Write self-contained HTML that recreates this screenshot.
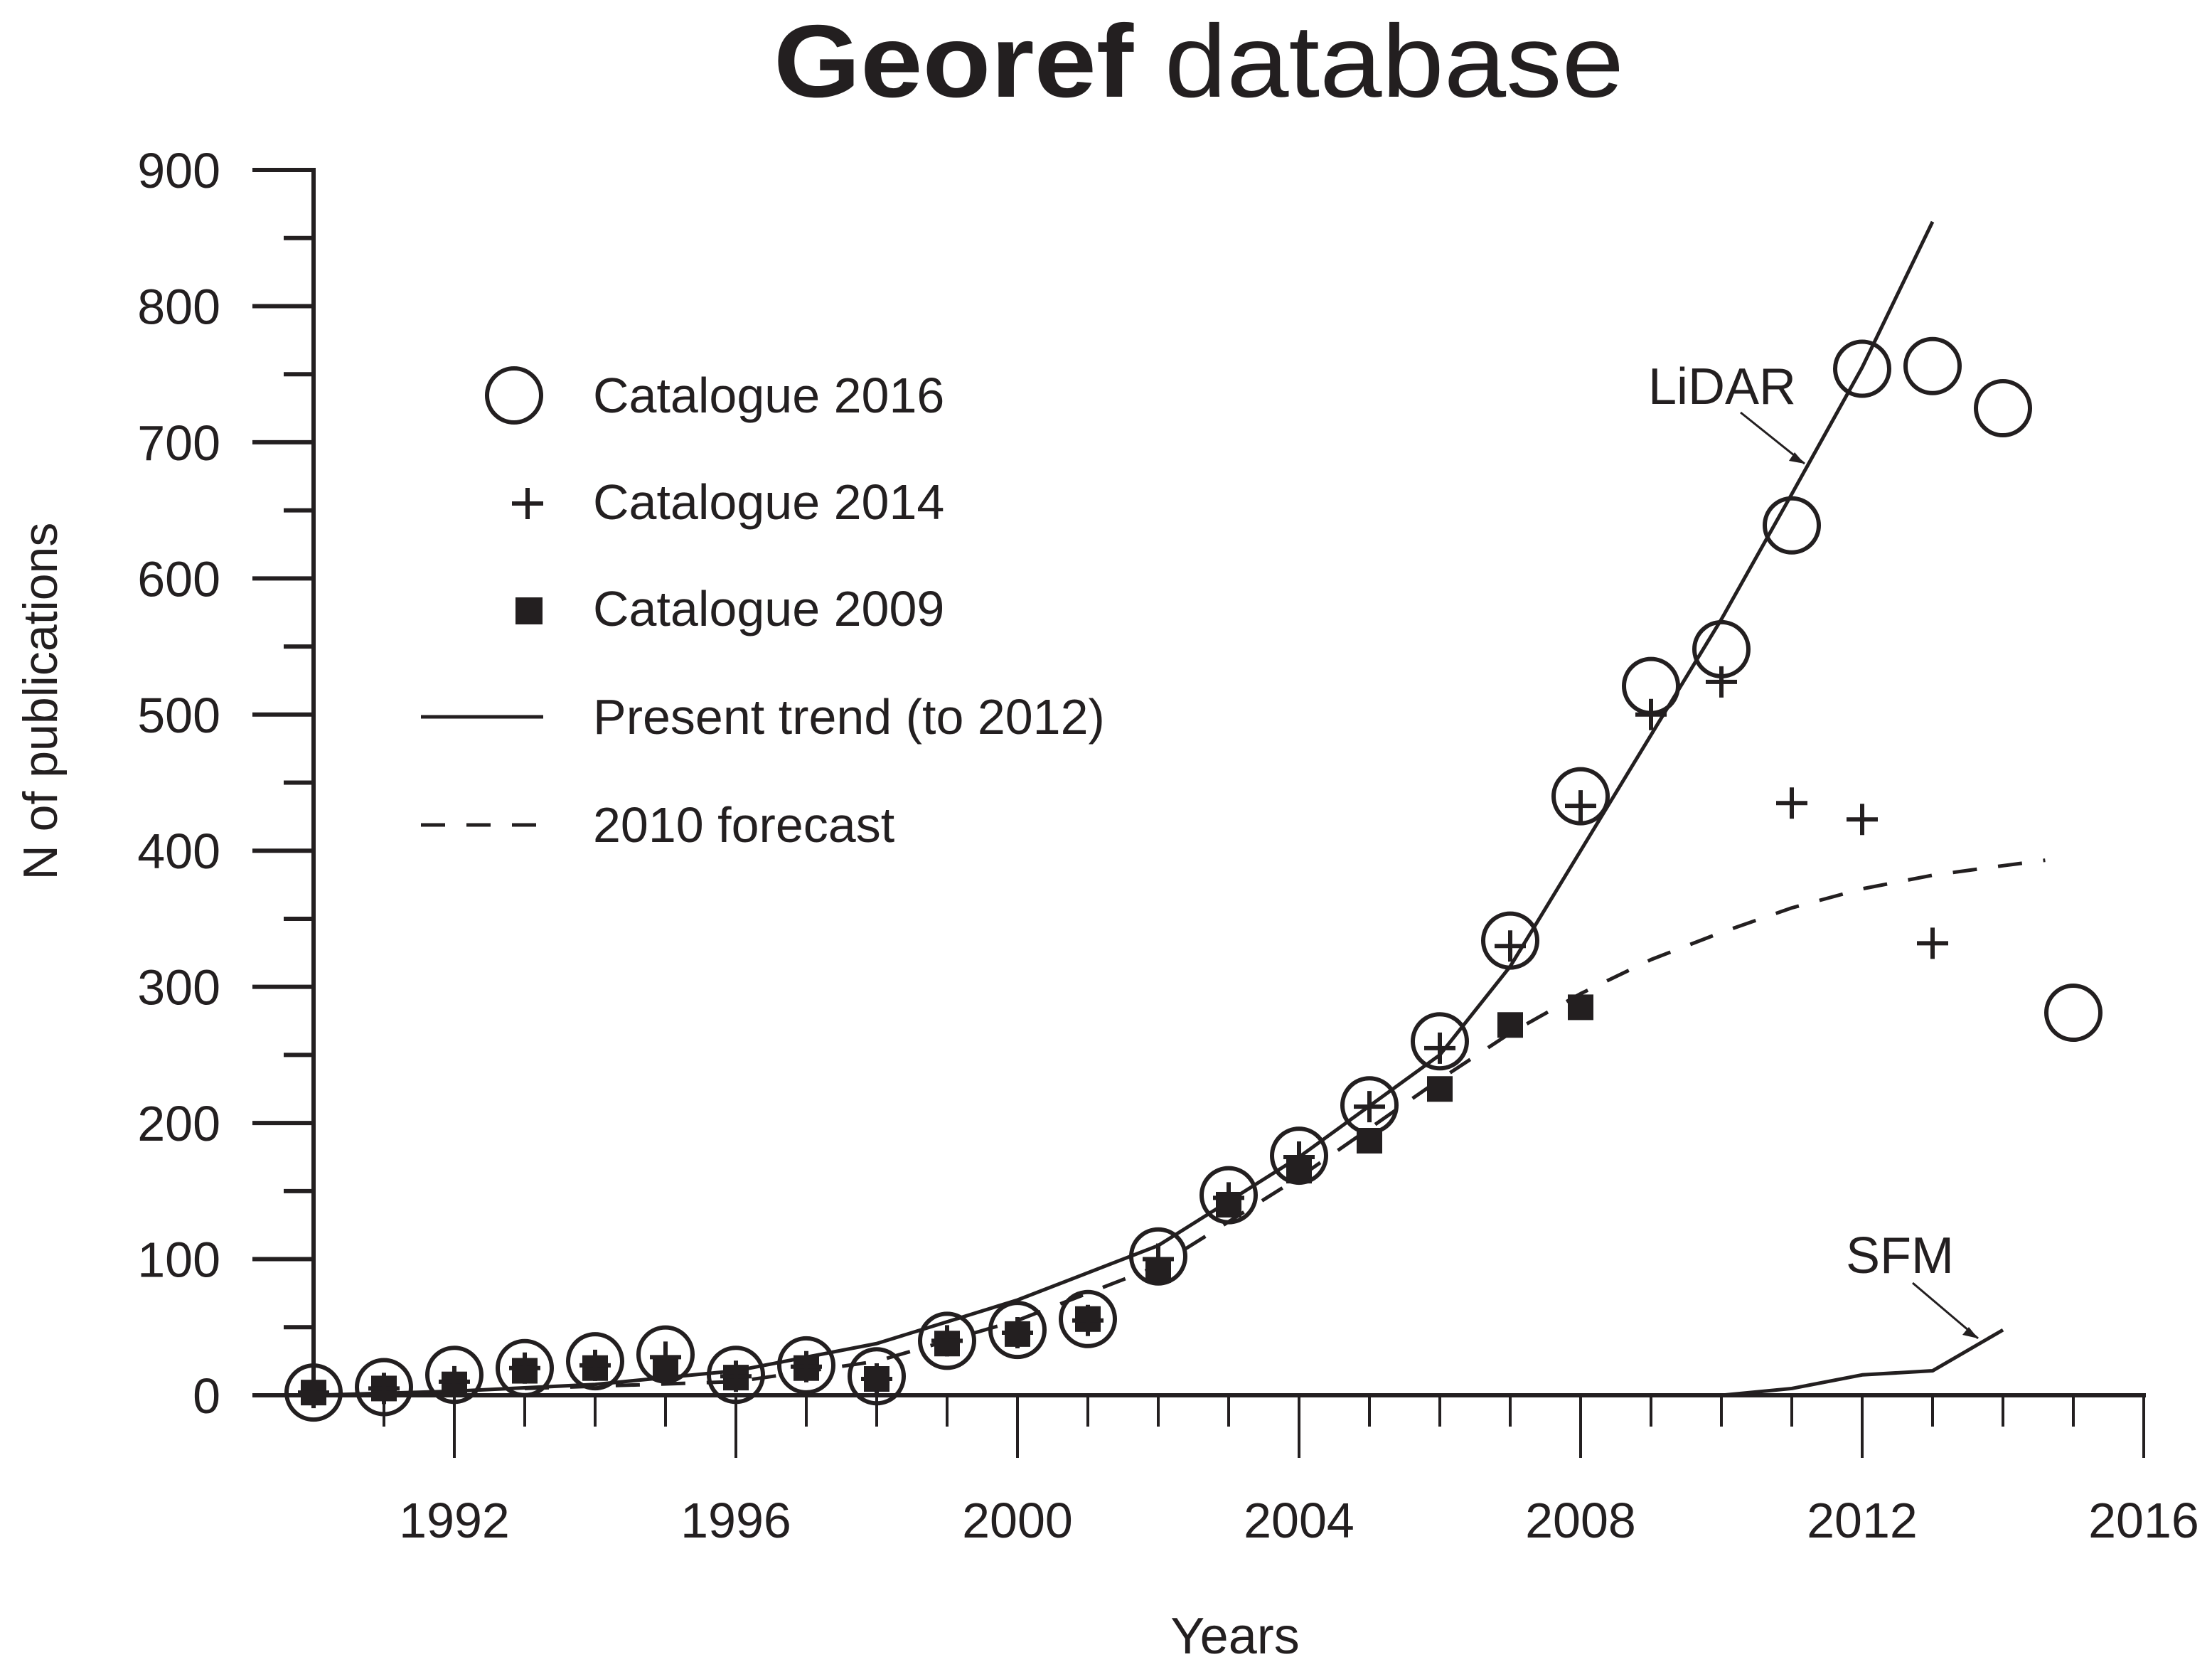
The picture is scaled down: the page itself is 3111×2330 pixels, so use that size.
<!DOCTYPE html>
<html><head><meta charset="utf-8"><style>
html,body{margin:0;padding:0;background:#fff;}
svg{display:block;}
text{font-family:"Liberation Sans",Arial,sans-serif;fill:#231f20;}
</style></head><body>
<svg id="chart" width="3111" height="2330" viewBox="0 0 3111 2330" xmlns="http://www.w3.org/2000/svg">
<text x="1686" y="136" text-anchor="middle" font-size="145" textLength="1196" lengthAdjust="spacingAndGlyphs"><tspan font-weight="bold">Georef</tspan> database</text>
<g id="axes"></g>
<g id="marks"></g>
<g id="legend">
  <g>
    <circle cx="723" cy="556" r="38" fill="none" stroke="#231f20" stroke-width="6"/>
    <text x="834" y="580" font-size="70">Catalogue 2016</text>
  </g>
  <g>
    <path d="M742 686v44M720 708h44" stroke="#231f20" stroke-width="6"/>
    <text x="834" y="730" font-size="70">Catalogue 2014</text>
  </g>
  <g>
    <rect x="725" y="840" width="38" height="38" fill="#231f20"/>
    <text x="834" y="880" font-size="70">Catalogue 2009</text>
  </g>
  <g>
    <line x1="592" y1="1008" x2="764" y2="1008" stroke="#231f20" stroke-width="5"/>
    <text x="834" y="1032" font-size="70">Present trend (to 2012)</text>
  </g>
  <g>
    <line x1="592" y1="1160" x2="764" y2="1160" stroke="#231f20" stroke-width="5" stroke-dasharray="34,30"/>
    <text x="834" y="1184" font-size="70">2010 forecast</text>
  </g>
</g>
<g>
  <text x="2318" y="568" font-size="72">LiDAR</text>
  <line x1="2448" y1="580" x2="2538" y2="652" stroke="#231f20" stroke-width="3"/>
  <path d="M2538 652 l-22 -4 l8 -12 z" fill="#231f20"/>
</g>
<g>
  <text x="2596" y="1790" font-size="72">SFM</text>
  <line x1="2690" y1="1804" x2="2782" y2="1882" stroke="#231f20" stroke-width="3"/>
  <path d="M2782 1882 l-22 -5 l9 -11 z" fill="#231f20"/>
</g>
<text x="1737" y="2325" text-anchor="middle" font-size="72">Years</text>
<text transform="translate(80,986) rotate(-90)" text-anchor="middle" font-size="68">N of publications</text>
</svg>
<script>
const years2016 = [1990,1991,1992,1993,1994,1995,1996,1997,1998,1999,2000,2001,2002,2003,2004,2005,2006,2007,2008,2009,2010,2011,2012,2013,2014,2015];
const cat2016 = [2,6,15,20,25,30,15,22,14,40,48,56,102,147,176,213,260,334,440,521,548,639,754,756,725,281];
const years2014 = [1990,1991,1992,1993,1994,1995,1996,1997,1998,1999,2000,2001,2002,2003,2004,2005,2006,2007,2008,2009,2010,2011,2012,2013];
const cat2014 = [2,5,10,20,22,28,14,21,12,40,46,55,100,145,175,212,255,330,433,500,524,435,423,332];
const years2009 = [1990,1991,1992,1993,1994,1995,1996,1997,1998,1999,2000,2001,2002,2003,2004,2005,2006,2007,2008];
const cat2009 = [2,5,8,18,20,20,13,20,12,38,45,56,92,140,165,187,225,272,285];
const trendYears = [1990,1992,1994,1996,1998,2000,2002,2004,2006,2007,2008,2009,2010,2011,2012,2013];
const trendVals = [0,3,8,18,38,70,110,175,250,315,400,485,570,662,755,862];
const forecastYears = [1993,1996,1998,2000,2002,2004,2006,2007,2008,2009,2010,2011,2012,2013,2014,2014.6];
const forecastVals = [5,10,25,55,95,160,232,266,295,320,340,358,372,382,389,393];
const sfmYears = [1990,2010,2011,2012,2013,2014];
const sfmVals = [0,0,5,15,18,48];
const yTicks = [0,100,200,300,400,500,600,700,800,900];
const xTickLabels = [1992,1996,2000,2004,2008,2012,2016];

const NS='http://www.w3.org/2000/svg';
const X0=441, PERYR=99.0, Y0=1962, PERU=1.9144;
const xs = yr => X0 + (yr-1990)*PERYR;
const ys = v => Y0 - v*PERU;
const C='#231f20';
function mk(tag, attrs, parent){const e=document.createElementNS(NS,tag);for(const k in attrs)e.setAttribute(k,attrs[k]);parent.appendChild(e);return e;}
const axes=document.getElementById('axes'), marks=document.getElementById('marks');

let yl=mk('line',{x1:xs(1990),y1:ys(0)+2,x2:xs(1990),y2:ys(900)-3,stroke:C,'stroke-width':6},axes);


for(let v=0; v<=900; v+=50){
  const major = v%100===0;
  const t=mk('line',{x1:major?xs(1990)-86:xs(1990)-42,y1:ys(v),x2:xs(1990),y2:ys(v),stroke:C,'stroke-width':6},axes);
  
  
}
yTicks.forEach(v=>{
  const t=mk('text',{x:310,y:ys(v)+25,'text-anchor':'end','font-size':70},axes);
  t.textContent=v;
  
  
});
let xl=mk('line',{x1:xs(1990)-86,y1:ys(0),x2:xs(2016)+3,y2:ys(0),stroke:C,'stroke-width':6},axes);


for(let yr=1991; yr<=2016; yr++){
  const major=(yr-1992)%4===0;
  const t=mk('line',{x1:xs(yr),y1:ys(0),x2:xs(yr),y2:ys(0)+(major?88:44),stroke:C,'stroke-width':4},axes);
  
  
}
xTickLabels.forEach(yr=>{
  const t=mk('text',{x:xs(yr),y:2162,'text-anchor':'middle','font-size':70},axes);
  t.textContent=yr;
  
  
});

function poly(xsArr, vals, extra, name){
  const pts=xsArr.map((yr,i)=>xs(yr)+','+ys(vals[i])).join(' ');
  const p=mk('polyline',Object.assign({points:pts,fill:'none',stroke:C,'stroke-width':5,'stroke-linejoin':'round'},extra),marks);
  
  
}
poly(trendYears,trendVals,{},'present-trend-line');
poly(forecastYears,forecastVals,{'stroke-dasharray':'34,30'},'forecast-2010-line');
poly(sfmYears,sfmVals,{},'sfm-line');

years2016.forEach((yr,i)=>{
  const c=mk('circle',{cx:xs(yr),cy:ys(cat2016[i]),r:38,fill:'none',stroke:C,'stroke-width':6},marks);
  
  
});
years2009.forEach((yr,i)=>{
  const r=mk('rect',{x:xs(yr)-18,y:ys(cat2009[i])-18,width:36,height:36,fill:C},marks);
  
  
});
years2014.forEach((yr,i)=>{
  const x=xs(yr), y=ys(cat2014[i]);
  const p=mk('path',{d:`M${x} ${y-22}v44M${x-22} ${y}h44`,stroke:C,'stroke-width':6},marks);
  
  
});
</script>
</body></html>
